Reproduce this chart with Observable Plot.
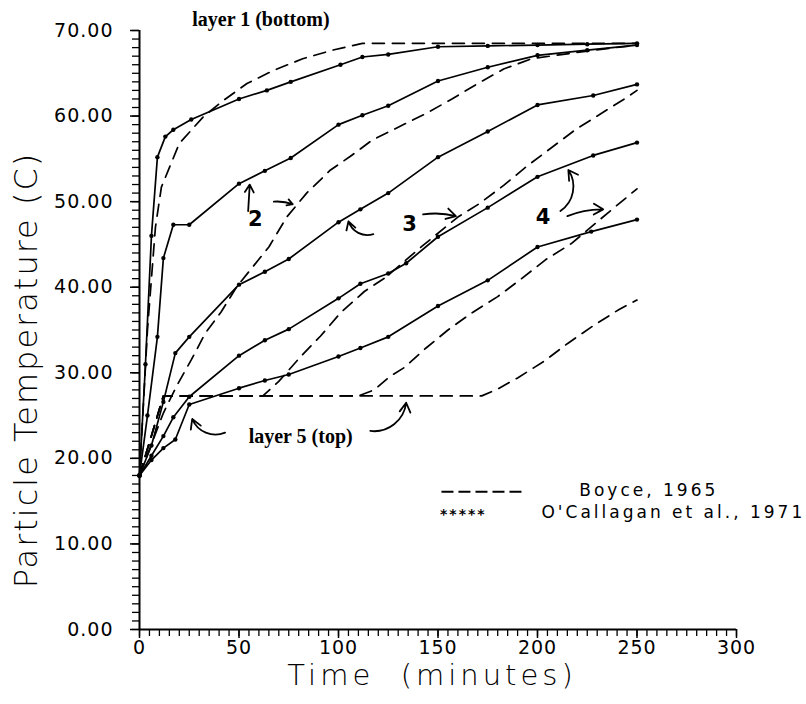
<!DOCTYPE html>
<html><head><meta charset="utf-8">
<script src="https://cdn.jsdelivr.net/npm/d3@7"></script>
<script src="https://cdn.jsdelivr.net/npm/@observablehq/plot@0.6"></script>
<style>body{margin:0;background:#fff}</style>
</head><body><div id="chart"></div>
<script>
// O'Callagan et al., 1971 (solid with dots)
const oc1_t = [0, 3, 6, 9, 13, 17, 26, 50, 64, 76, 101, 112, 125, 150, 175, 200, 225, 250];
const oc1_T = [18, 31, 46, 55.2, 57.6, 58.4, 59.6, 62, 63, 64, 66, 66.9, 67.2, 68.1, 68.2, 68.3, 68.4, 68.5];
const oc2_t = [0, 4, 9, 12, 17, 25, 50, 63, 76, 100, 112, 125, 150, 175, 200, 225, 250];
const oc2_T = [18, 25, 34.2, 43.4, 47.3, 47.3, 52.1, 53.6, 55.1, 59, 60.1, 61.2, 64.1, 65.7, 67.1, 67.7, 68.3];
const oc3_t = [0, 6, 12, 18, 25, 50, 63, 75, 100, 111, 125, 150, 175, 200, 228, 250];
const oc3_T = [18, 21.5, 26.6, 32.3, 34.2, 40.3, 41.8, 43.3, 47.6, 49.1, 51, 55.2, 58.2, 61.3, 62.4, 63.7];
const oc4_t = [0, 6, 12, 17, 25, 50, 63, 75, 100, 111, 125, 134, 150, 175, 200, 228, 250];
const oc4_T = [18, 20.3, 22.6, 24.8, 27.2, 32, 33.8, 35.1, 38.7, 40.4, 41.6, 42.8, 45.9, 49.3, 52.9, 55.4, 56.9];
const oc5_t = [0, 6, 12, 18, 25, 50, 63, 75, 100, 111, 125, 150, 175, 200, 227, 250];
const oc5_T = [18, 19.8, 21.2, 22.2, 26.3, 28.2, 29.1, 29.8, 31.9, 32.9, 34.2, 37.8, 40.8, 44.7, 46.5, 47.9];

// Boyce, 1965 (dashed)
const b1_t = [0, 4, 8, 11, 20, 32, 42, 54, 67, 82, 97, 112, 150, 200, 250];
const b1_T = [18, 35, 47, 51.7, 56.8, 59.9, 61.8, 63.8, 65.3, 66.7, 67.7, 68.5, 68.5, 68.5, 68.5];
const b2_t = [0, 12, 19, 26, 33, 41, 49, 57, 65, 74, 84, 96, 106, 117, 130, 144, 157, 170, 183, 197, 225, 250];
const b2_T = [18, 25.3, 28.6, 31.5, 34.6, 37.1, 40.1, 42.4, 44.7, 48.2, 51, 53.7, 55.3, 57.2, 58.7, 60.3, 62, 63.8, 65.5, 66.7, 67.6, 68.3];
const b3_t = [0, 12, 62, 70, 81, 91, 101, 113, 124, 142, 160, 171, 183, 195, 207, 219, 232, 245, 250];
const b3_T = [18, 27.3, 27.3, 29, 31.9, 34.3, 37, 39.5, 41.2, 44.8, 48.2, 49.8, 51.9, 54.2, 56.3, 58.4, 60.3, 62.2, 63];
const b4_t = [0, 12, 110, 118, 126, 133, 144, 155, 167, 180, 192, 204, 217, 237, 250];
const b4_T = [18, 27.3, 27.3, 28, 29.6, 30.6, 32.9, 35, 37, 38.9, 41, 43.2, 45.1, 49, 51.5];
const b5_t = [0, 12, 172, 180, 190, 203, 215, 228, 241, 250];
const b5_T = [18, 27.3, 27.3, 28.1, 29.4, 31.3, 33.4, 35.5, 37.4, 38.5];

const xTicks = [0, 50, 100, 150, 200, 250, 300];
const yTicks = [0, 10, 20, 30, 40, 50, 60, 70];

const legendLabels = ["Boyce, 1965", "O'Callagan et al., 1971"];

// annotation texts, placed in data coordinates
const layerNotes = [
  {text: "layer 1 (bottom)", t: 61, T: 71.3},
  {text: "layer 5 (top)", t: 81, T: 22.6}
];
const numberNotes = [
  {text: "2", t: 58.5, T: 47.9},
  {text: "3", t: 136, T: 47.3},
  {text: "4", t: 203, T: 48.2}
];
// annotation arrows: from (t1,T1) to (t2,T2)
const arrowUp2 = [{t1: 54.6, T1: 48.9, t2: 55.4, T2: 52.0}];
const arrowRight = [
  {t1: 67.5, T1: 50.0, t2: 77.0, T2: 49.7},
  {t1: 142.5, T1: 48.5, t2: 159.0, T2: 48.3},
  {t1: 215, T1: 48.3, t2: 233.0, T2: 49.1}
];
const arrowCurveCW = [
  {t1: 117.5, T1: 46.2, t2: 105.0, T2: 47.7},
  {t1: 43, T1: 23.0, t2: 26.5, T2: 24.6}
];
const arrowCurveCCW = [
  {t1: 211.5, T1: 48.9, t2: 215.5, T2: 53.7},
  {t1: 116, T1: 23.2, t2: 134.0, T2: 26.5}
];

function rows(ts, Ts, layer) { return ts.map((t, i) => ({t, T: Ts[i], layer})); }
const oc = [
  ...rows(oc1_t, oc1_T, 1), ...rows(oc2_t, oc2_T, 2), ...rows(oc3_t, oc3_T, 3),
  ...rows(oc4_t, oc4_T, 4), ...rows(oc5_t, oc5_T, 5)
];
const boyce = [
  ...rows(b1_t, b1_T, 1), ...rows(b2_t, b2_T, 2), ...rows(b3_t, b3_T, 3),
  ...rows(b4_t, b4_T, 4), ...rows(b5_t, b5_T, 5)
];

const sans = "DejaVu Sans";
const serif = "Liberation Serif";
const arrowStyle = {x1: "t1", y1: "T1", x2: "t2", y2: "T2", stroke: "black", strokeWidth: 1.8, headLength: 9};

const chart = Plot.plot({
  width: 806,
  height: 704,
  marginLeft: 139,
  marginRight: 70,
  marginTop: 30,
  marginBottom: 75,
  style: {background: "white", color: "black", fontFamily: sans, overflow: "visible"},
  x: {domain: [0, 300], label: null},
  y: {domain: [0, 70], label: null},
  marks: [
    Plot.axisX({ticks: d3.range(0, 301, 5), tickSize: 7, tickFormat: () => "", label: null, strokeWidth: 1.3}),
    Plot.axisX({ticks: xTicks, tickSize: 9, tickPadding: 2, fontSize: 19, tickFormat: d => String(d), label: null, strokeWidth: 1.5}),
    Plot.axisY({ticks: d3.range(0, 71, 1), tickSize: 7, tickFormat: () => "", label: null, strokeWidth: 1.3}),
    Plot.axisY({ticks: yTicks, tickSize: 9, tickPadding: 17, fontSize: 19, tickFormat: d => d.toFixed(2), label: null, strokeWidth: 1.5}),
    Plot.ruleX([0], {strokeWidth: 2}),
    Plot.ruleY([0], {strokeWidth: 2}),
    Plot.text(["Particle Temperature (C)"], {text: d => d, frameAnchor: "left", textAnchor: "middle", dx: -113, dy: 40, rotate: -90, fontSize: 32, fontWeight: 200}),
    Plot.text(["Time\u00a0\u00a0(minutes)"], {text: d => d, frameAnchor: "bottom", textAnchor: "middle", dy: 55, dx: -6, fontSize: 29, fontWeight: 200}),
    // Boyce dashed
    Plot.line(boyce, {x: "t", y: "T", z: "layer", stroke: "black", strokeWidth: 1.7, strokeDasharray: "12,8"}),
    // O'Callagan solid + dots
    Plot.line(oc, {x: "t", y: "T", z: "layer", stroke: "black", strokeWidth: 1.7}),
    Plot.dot(oc, {x: "t", y: "T", r: 2.2, fill: "black", stroke: null}),
    // annotations
    Plot.text(layerNotes, {x: "t", y: "T", text: "text", fontSize: 20, fontFamily: serif, fontWeight: "bold"}),
    Plot.text(numberNotes, {x: "t", y: "T", text: "text", fontSize: 21, fontFamily: sans, fontWeight: "bold"}),
    Plot.arrow(arrowUp2, {...arrowStyle, bend: 0}),
    Plot.arrow(arrowRight, {...arrowStyle, bend: 12}),
    Plot.arrow(arrowCurveCW, {...arrowStyle, bend: 45}),
    Plot.arrow(arrowCurveCCW, {...arrowStyle, bend: -45}),
    // legend
    Plot.ruleY([16.1], {x1: 152, x2: 193, strokeDasharray: "12,5", strokeWidth: 1.8}),
    Plot.text(["*****"], {text: d => d, x: 151, y: 13.4, textAnchor: "start", fontSize: 14, fontWeight: "bold"}),
    Plot.text([legendLabels[0]], {text: d => d, x: 221, y: 16.2, textAnchor: "start", fontSize: 17}),
    Plot.text([legendLabels[1]], {text: d => d, x: 202, y: 13.7, textAnchor: "start", fontSize: 17})
  ]
});
// letter spacing for the wide, plotter-style lettering
const spacing = [
  ["Particle Temperature (C)", "2px"],
  ["Time\u00a0\u00a0(minutes)", "4px"],
  [legendLabels[0], "3px"],
  [legendLabels[1], "3px"],
  ["*****", "2px"]
];
chart.querySelectorAll("text").forEach(el => {
  const s = el.textContent;
  for (const [txt, ls] of spacing) if (s === txt) el.setAttribute("letter-spacing", ls);
  if (/^\d+(\.00)?$/.test(s)) el.setAttribute("letter-spacing", "1px");
});
document.getElementById("chart").append(chart);
</script></body></html>
